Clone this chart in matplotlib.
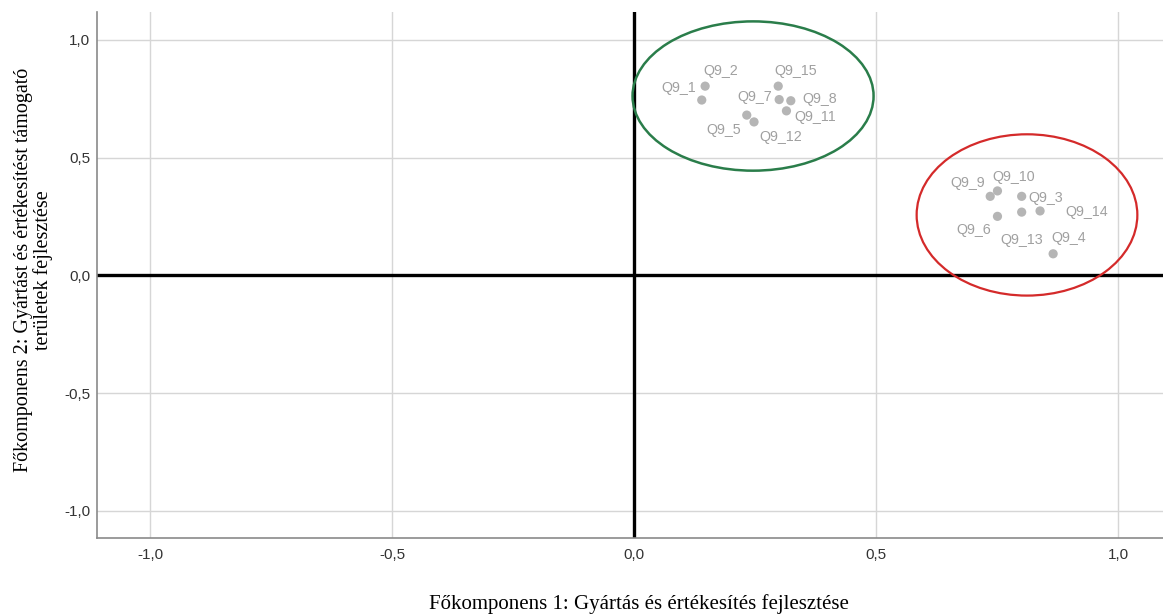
import matplotlib.pyplot as plt
from matplotlib.patches import Ellipse
from matplotlib.ticker import FuncFormatter

# component loadings
labels = ["Q9_1", "Q9_2", "Q9_15", "Q9_7", "Q9_8", "Q9_11", "Q9_5", "Q9_12",
          "Q9_9", "Q9_10", "Q9_3", "Q9_14", "Q9_6", "Q9_13", "Q9_4"]
comp1 = [0.140, 0.147, 0.298, 0.300, 0.324, 0.315, 0.233, 0.248,
         0.736, 0.751, 0.801, 0.839, 0.751, 0.801, 0.866]
comp2 = [0.745, 0.804, 0.804, 0.747, 0.742, 0.699, 0.681, 0.652,
         0.336, 0.359, 0.336, 0.274, 0.251, 0.269, 0.092]

ticks = [-1.0, -0.5, 0.0, 0.5, 1.0]

# label offsets in pixels (dx, dy)
offsets = {
    "Q9_1": (-23, 12), "Q9_2": (16, 15), "Q9_15": (17, 15), "Q9_7": (-24, 3),
    "Q9_8": (29, 2), "Q9_11": (29, -6), "Q9_5": (-23, -15), "Q9_12": (27, -15),
    "Q9_9": (-23, 13), "Q9_10": (16, 14), "Q9_3": (24, -2), "Q9_14": (47, -1),
    "Q9_6": (-24, -14), "Q9_13": (0, -28), "Q9_4": (16, 16),
}

fig = plt.figure(figsize=(11.63, 6.14), dpi=100)
ax = fig.add_axes([0.0834, 0.1238, 0.9166, 0.8567])

ax.set_xlim(-1.1095, 1.093)
ax.set_ylim(-1.115, 1.119)
ax.set_xticks(ticks)
ax.set_yticks(ticks)
fmt = FuncFormatter(lambda v, p: ("%.1f" % v).replace(".", ","))
ax.xaxis.set_major_formatter(fmt)
ax.yaxis.set_major_formatter(fmt)
ax.tick_params(length=0, labelsize=11, labelcolor="#333333")
ax.tick_params(axis="x", pad=7.5)
ax.tick_params(axis="y", pad=5)
for t in ax.get_xticklabels() + ax.get_yticklabels():
    t.set_fontfamily("Liberation Sans")

ax.grid(True, color="#d6d6d6", linewidth=1.0)
ax.set_axisbelow(True)
for s in ["top", "right"]:
    ax.spines[s].set_visible(False)
for s in ["left", "bottom"]:
    ax.spines[s].set_color("#8a8a8a")
    ax.spines[s].set_linewidth(1.2)

ax.axhline(0, color="black", linewidth=2.4, zorder=2)
ax.axvline(0, color="black", linewidth=2.4, zorder=2)

ax.scatter(comp1, comp2, s=44, color="#b5b5b5", edgecolors="none", zorder=3)
for name, x, y in zip(labels, comp1, comp2):
    ax.annotate(name, (x, y), xytext=offsets[name], textcoords="offset pixels",
                ha="center", va="center", fontsize=10.3, color="#a0a0a0",
                family="Liberation Sans", zorder=4)

ax.add_patch(Ellipse((0.246, 0.762), 0.498, 0.634, fill=False,
                     edgecolor="#2a7d4a", linewidth=1.8, zorder=5))
ax.add_patch(Ellipse((0.812, 0.257), 0.456, 0.685, fill=False,
                     edgecolor="#d42a2a", linewidth=1.6, zorder=5))

fig.text(0.549, 0.017, "Főkomponens 1: Gyártás és értékesítés fejlesztése",
         ha="center", va="center", fontsize=15, family="Liberation Serif")
fig.text(0.029, 0.56, "Főkomponens 2: Gyártást és értékesítést támogató\nterületek fejlesztése",
         ha="center", va="center", rotation=90, fontsize=14.5,
         family="Liberation Serif", linespacing=1.0)

fig.savefig("out.png", dpi=100)
